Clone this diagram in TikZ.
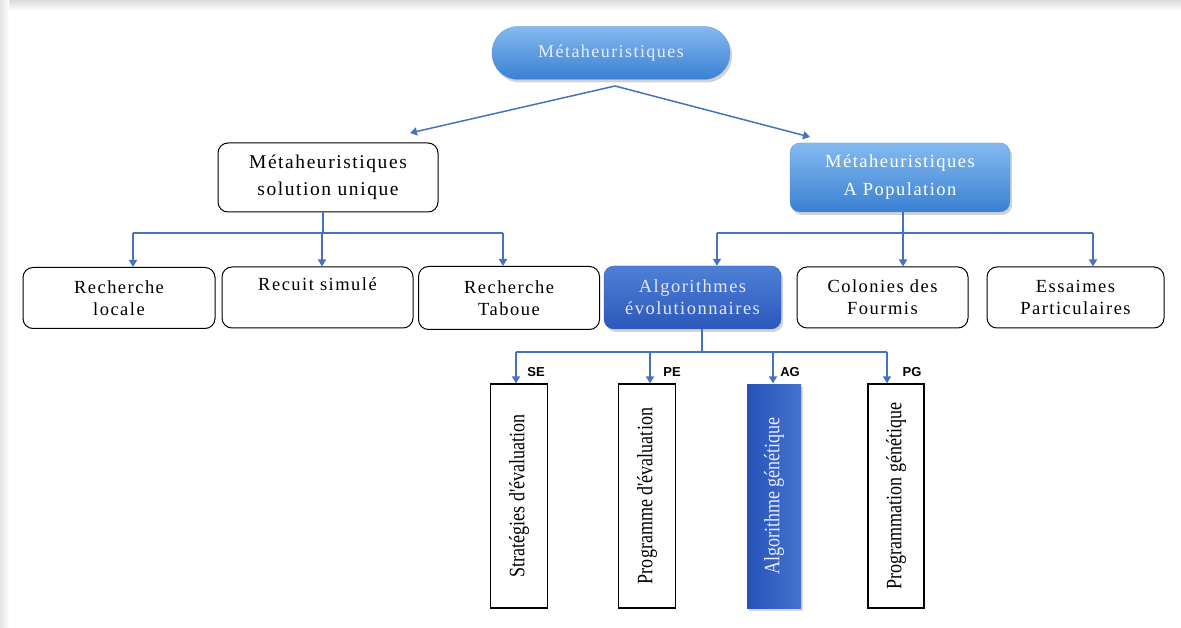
\documentclass[tikz,border=0pt]{standalone}
\usepackage{fontspec}
\setmainfont{Liberation Serif}[LetterSpace=8]
\newfontfamily\labfont{Liberation Sans}
\newfontfamily\vertfont{Liberation Serif}
\usetikzlibrary{arrows.meta,shadows}
\definecolor{linkblue}{RGB}{70,114,190}
\definecolor{lightA}{RGB}{132,186,240}
\definecolor{lightB}{RGB}{58,128,210}
\definecolor{darkA}{RGB}{78,128,214}
\definecolor{darkB}{RGB}{44,88,186}
\definecolor{agA}{RGB}{38,82,184}
\definecolor{agB}{RGB}{68,116,208}
\newcommand{\vtxt}[1]{\scalebox{0.82}[1]{#1}}
\tikzset{
  link/.style={draw=linkblue,line width=1.5pt},
  arr/.style={link,-{Triangle[width=8pt,length=7pt]}},
  wbox/.style={draw=black,line width=1pt,rounded corners=10pt,fill=white,inner sep=0pt,align=center,
    font=\fontsize{18.5}{22}\selectfont},
  bbox/.style={rounded corners=10pt,inner sep=0pt,align=center,text=white,
    top color=lightA,bottom color=lightB,draw=lightB!80!white,
    drop shadow={opacity=0.35,shadow xshift=2pt,shadow yshift=-3pt},
    font=\fontsize{18.5}{28}\selectfont},
  vbox/.style={draw=black,line width=1.2pt,rotate=90,inner sep=0pt,fill=white,
    minimum width=224pt,font=\vertfont\fontsize{22}{22}\selectfont},
  tag/.style={font=\labfont\bfseries\fontsize{13}{13}\selectfont,inner sep=0pt}
}
\begin{document}
\begin{tikzpicture}[x=1pt,y=-1pt]
\useasboundingbox (0,0) rectangle (1181,628);
\fill[white] (0,0) rectangle (1181,628);
\shade[top color=black!14,bottom color=white] (0,0) rectangle (1181,11);
\shade[left color=black!10,right color=white] (0,0) rectangle (9,628);

% top
\node[bbox,rounded corners=26pt,minimum width=238pt,minimum height=53pt,
  font=\fontsize{18}{20}\selectfont,text=white!92!blue] (top) at (611,53) {Métaheuristiques};
% level 2
\node[wbox,minimum width=220pt,minimum height=69pt,font=\fontsize{19.5}{27}\selectfont] (msu) at (328,177.5)
  {Métaheuristiques\\solution unique};
\node[bbox,minimum width=220pt,minimum height=69pt] (pop) at (900,177.5)
  {Métaheuristiques\\A Population};
% level 3
\node[wbox,minimum width=192pt,minimum height=61pt] (rl) at (119,298) {Recherche\\locale};
\node[wbox,minimum width=191pt,minimum height=61pt] (rs) at (317.5,297.5) {Recuit simulé\\[4pt]};
\node[wbox,minimum width=181pt,minimum height=63pt] (rt) at (509,298) {Recherche\\Taboue};
\node[bbox,top color=darkA,bottom color=darkB,draw=darkB,minimum width=177pt,minimum height=63pt,
  font=\fontsize{18.5}{22}\selectfont,text=white!90!blue] (ae) at (692.5,297.5) {Algorithmes\\évolutionnaires};
\node[wbox,minimum width=171pt,minimum height=61pt] (cf) at (882.5,297.5) {Colonies des\\Fourmis};
\node[wbox,minimum width=177pt,minimum height=61pt] (ep) at (1075.5,297.5) {Essaimes\\Particulaires};
% level 4
\node[vbox,minimum height=57pt] (se) at (519,496) {\vtxt{Stratégies d'évaluation}};
\node[vbox,minimum height=57pt] (pe) at (647,496) {\vtxt{Programme d'évaluation}};
\node[vbox,minimum height=54pt,draw=none,left color=agA,right color=agB,text=white!92!blue,
  drop shadow={opacity=0.3,shadow xshift=2pt,shadow yshift=-3pt}] (ag) at (774,496) {\vtxt{Algorithme génétique}};
\node[vbox,minimum height=56pt] (pg) at (896,496) {\vtxt{Programmation génétique}};

% level 1 -> 2
\coordinate (apex) at (615,86);
\coordinate (tipL) at (410,133);
\coordinate (tipR) at (810,137);
\draw[arr] (apex) -- (tipL);
\draw[arr] (apex) -- (tipR);

% level 2 -> 3 (left)
\coordinate (hL) at (323,233);
\coordinate (a1) at (133,233);
\coordinate (a2) at (322,233);
\coordinate (a3) at (503,233);
\draw[link] (hL |- msu.south) -- (hL);
\draw[link] (a1) -- (a3);
\draw[arr] (a1) -- (a1 |- rl.north);
\draw[arr] (a2) -- (a2 |- rs.north);
\draw[arr] (a3) -- (a3 |- rt.north);

% level 2 -> 3 (right)
\coordinate (b1) at (717,233);
\coordinate (b2) at (903,233);
\coordinate (b3) at (1093,233);
\draw[link] (b2 |- pop.south) -- (b2);
\draw[link] (b1) -- (b3);
\draw[arr] (b1) -- (b1 |- ae.north);
\draw[arr] (b2) -- (b2 |- cf.north);
\draw[arr] (b3) -- (b3 |- ep.north);

% level 3 -> 4
\coordinate (hE) at (702,352);
\coordinate (c1) at (516,352);
\coordinate (c2) at (650,352);
\coordinate (c3) at (773,352);
\coordinate (c4) at (887,352);
\draw[link] (hE |- ae.south) -- (hE);
\draw[link] (c1) -- (c4);
\draw[arr] (c1) -- (c1 |- se.east);
\draw[arr] (c2) -- (c2 |- pe.east);
\draw[arr] (c3) -- (c3 |- ag.east);
\draw[arr] (c4) -- (c4 |- pg.east);

\node[tag] (tse) at (536,372) {SE};
\node[tag] (tpe) at (672,372) {PE};
\node[tag] (tag1) at (790,372) {AG};
\node[tag] (tpg) at (912,372) {PG};
\end{tikzpicture}
\end{document}
